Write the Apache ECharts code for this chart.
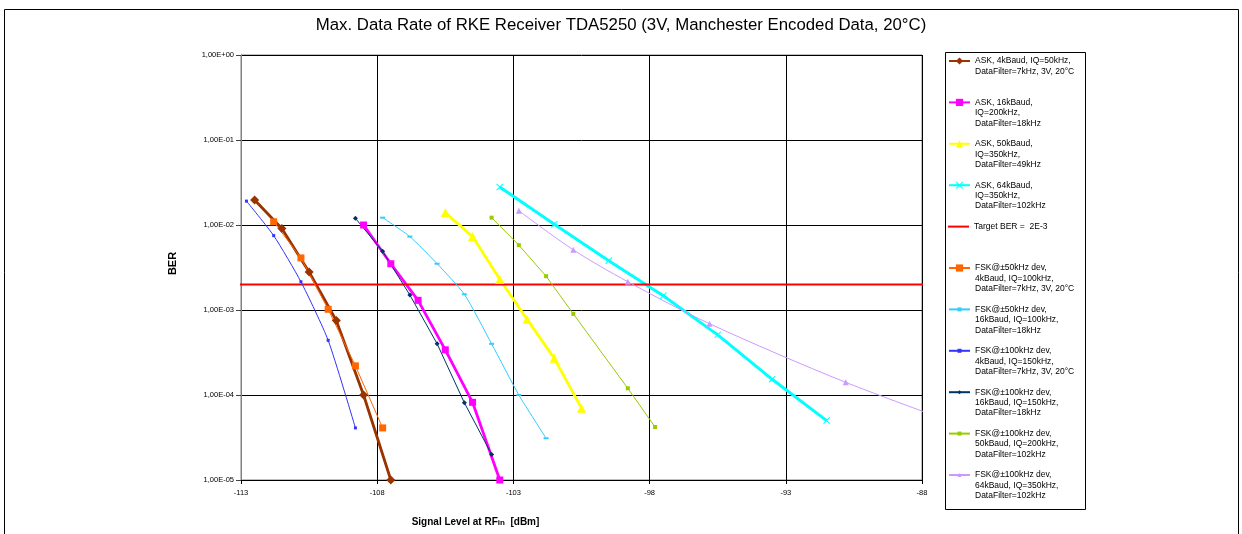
<!DOCTYPE html>
<html>
<head>
<meta charset="utf-8">
<script src="https://cdn.jsdelivr.net/npm/echarts@6/dist/echarts.min.js"></script>
<style>
  html, body { margin: 0; padding: 0; background: #fff; }
  #chart { width: 1242px; height: 534px; }
</style>
</head>
<body>
<div id="chart"></div>
<script>
// ---- data (x = dBm, y = BER) ----
const ask4kX = [-112.5, -111.5, -110.5, -109.5, -108.5, -107.5];
const ask4kBer = [0.0197, 0.0091, 0.0028, 0.00075, 0.0001, 0.00001];

const ask16kX = [-108.5, -107.5, -106.5, -105.5, -104.5, -103.5];
const ask16kBer = [0.01, 0.0035, 0.0013, 0.00034, 0.000082, 0.00001];

const ask50kX = [-105.5, -104.5, -103.5, -102.5, -101.5, -100.5];
const ask50kBer = [0.014, 0.0073, 0.0023, 0.00078, 0.00027, 0.00007];

const ask64kX = [-103.5, -101.5, -99.5, -97.5, -95.5, -93.5, -91.5];
const ask64kBer = [0.028, 0.0102, 0.0038, 0.00147, 0.00051, 0.000153, 0.00005];

const targetX = [-113.2, -87.9];
const targetBer = [0.002, 0.002];

const fsk50k4X = [-111.8, -110.8, -109.8, -108.8, -107.8];
const fsk50k4Ber = [0.0109, 0.0041, 0.00102, 0.00022, 0.000041];

const fsk50k16X = [-107.8, -106.8, -105.8, -104.8, -103.8, -102.8, -101.8];
const fsk50k16Ber = [0.0122, 0.0073, 0.0035, 0.00153, 0.0004, 0.0001, 0.000031];

const fsk100k4X = [-112.8, -111.8, -110.8, -109.8, -108.8];
const fsk100k4Ber = [0.0191, 0.0075, 0.00215, 0.00044, 0.000041];

const fsk100k16X = [-108.8, -107.8, -106.8, -105.8, -104.8, -103.8];
const fsk100k16Ber = [0.012, 0.0049, 0.0015, 0.0004, 0.000081, 0.00002];

const fsk100k50X = [-103.8, -102.8, -101.8, -100.8, -98.8, -97.8];
const fsk100k50Ber = [0.0122, 0.0058, 0.0025, 0.0009, 0.00012, 0.000042];

const fsk100k64X = [-102.8, -100.8, -98.8, -95.8, -90.8, -85.8];
const fsk100k64Ber = [0.0147, 0.0051, 0.00215, 0.00069, 0.000141, 0.000036];

// tick labels
const xTickValues = [-113, -108, -103, -98, -93, -88];
const yTickLabels = ['1,00E-05', '1,00E-04', '1,00E-03', '1,00E-02', '1,00E-01', '1,00E+00'];

const FONT = "'Liberation Sans', Arial, sans-serif";
const X_SHAPE = 'path://M0,1L1,0L5,4L9,0L10,1L6,5L10,9L9,10L5,6L1,10L0,9L4,5Z';

function pairs(xs, ys) {
  return xs.map((x, i) => [x, ys[i]]);
}

function line(name, xs, ys, color, symbol, size, width, extra) {
  return Object.assign({
    name: name,
    type: 'line',
    data: pairs(xs, ys),
    symbol: symbol,
    symbolSize: size,
    showSymbol: symbol !== 'none',
    lineStyle: { color: color, width: width },
    itemStyle: { color: color },
    emphasis: { disabled: true },
    animation: false
  }, extra || {});
}

const seriesList = [
  line('ASK, 4kBaud, IQ=50kHz,\nDataFilter=7kHz, 3V, 20°C', ask4kX, ask4kBer, '#993300', 'diamond', 9, 2.8),
  line('ASK, 16kBaud,\nIQ=200kHz,\nDataFilter=18kHz', ask16kX, ask16kBer, '#FF00FF', 'rect', 7, 2.8),
  line('ASK, 50kBaud,\nIQ=350kHz,\nDataFilter=49kHz', ask50kX, ask50kBer, '#FFFF00', 'triangle', 9, 2.8),
  line('ASK, 64kBaud,\nIQ=350kHz,\nDataFilter=102kHz', ask64kX, ask64kBer, '#00FFFF', X_SHAPE, 7, 3),
  line('Target BER =  2E-3', targetX, targetBer, '#FF0000', 'none', 0, 2, { clip: false }),
  line('FSK@±50kHz dev,\n4kBaud, IQ=100kHz,\nDataFilter=7kHz, 3V, 20°C', fsk50k4X, fsk50k4Ber, '#FF6600', 'rect', 7, 1),
  line('FSK@±50kHz dev,\n16kBaud, IQ=100kHz,\nDataFilter=18kHz', fsk50k16X, fsk50k16Ber, '#33CCFF', 'rect', [5, 2], 1, { smooth: 0.2 }),
  line('FSK@±100kHz dev,\n4kBaud, IQ=150kHz,\nDataFilter=7kHz, 3V, 20°C', fsk100k4X, fsk100k4Ber, '#3333FF', 'rect', 3, 1, { smooth: 0.2 }),
  line('FSK@±100kHz dev,\n16kBaud, IQ=150kHz,\nDataFilter=18kHz', fsk100k16X, fsk100k16Ber, '#003366', 'diamond', 5, 1),
  line('FSK@±100kHz dev,\n50kBaud, IQ=200kHz,\nDataFilter=102kHz', fsk100k50X, fsk100k50Ber, '#99CC00', 'rect', 4, 1),
  line('FSK@±100kHz dev,\n64kBaud, IQ=350kHz,\nDataFilter=102kHz', fsk100k64X, fsk100k64Ber, '#CC99FF', 'triangle', 6, 1, { smooth: 0.3 })
];

// one legend block per entry; blank lines in front keep the icon on the first text line
const LH = 10.4;
const iconHeight = [9, 9, 9, 9, 2, 9, 5, 5, 5, 5, 5];
const legends = seriesList.map((s, i) => {
  const n = s.name.split('\n').length;
  const item = { name: s.name };
  if (s.symbol === 'none') item.icon = 'rect';
  return {
    data: [item],
    orient: 'vertical',
    left: 948,
    top: 61 + i * 41.4 - (2 * n - 1) * LH / 2,
    padding: 0,
    itemGap: 0,
    itemWidth: 21,
    itemHeight: iconHeight[i],
    selectedMode: false,
    formatter: function (name) {
      return ' \n'.repeat(n - 1) + name;
    },
    textStyle: {
      fontFamily: FONT,
      fontSize: 8.5,
      color: '#000',
      lineHeight: LH
    }
  };
});

const myChart = echarts.init(document.getElementById('chart'), null, { renderer: 'canvas' });

const option = {
  backgroundColor: '#fff',
  animation: false,
  title: {
    text: 'Max. Data Rate of RKE Receiver TDA5250 (3V, Manchester Encoded Data, 20°C)',
    left: 'center',
    top: 17,
    padding: [0, 0, 0, 22],
    textStyle: { fontFamily: FONT, fontSize: 16.8, fontWeight: 'normal', color: '#000' }
  },
  legend: legends,
  grid: {
    left: 241,
    right: 320,
    top: 55,
    bottom: 54,
    containLabel: false,
    outerBoundsMode: 'none',
    show: true,
    borderColor: '#808080',
    borderWidth: 1
  },
  graphic: [
    {
      type: 'rect',
      shape: { x: 4.5, y: 9.5, width: 1234, height: 540 },
      style: { fill: null, stroke: '#000', lineWidth: 1 },
      silent: true
    },
    {
      type: 'rect',
      shape: { x: 945.5, y: 52.5, width: 140, height: 457 },
      style: { fill: null, stroke: '#000', lineWidth: 1 },
      silent: true
    }
  ],
  xAxis: {
    type: 'value',
    min: -113,
    max: -88,
    name: 'Signal Level at RF{sub|in}  [dBm]',
    nameLocation: 'middle',
    nameGap: 37,
    nameTextStyle: {
      fontFamily: FONT,
      fontSize: 10,
      fontWeight: 'bold',
      color: '#000',
      padding: [0, 212, 0, 0],
      rich: {
        sub: { fontFamily: FONT, fontSize: 8, fontWeight: 'bold', color: '#000', verticalAlign: 'bottom', lineHeight: 8 }
      }
    },
    axisLine: { show: true, lineStyle: { color: '#000', width: 1 } },
    axisTick: { show: true, length: 4, customValues: xTickValues, lineStyle: { color: '#000' } },
    axisLabel: {
      customValues: xTickValues,
      fontFamily: FONT,
      fontSize: 7.5,
      color: '#000',
      margin: 9
    },
    splitLine: { show: true, lineStyle: { color: '#000', width: 1 } }
  },
  yAxis: {
    type: 'log',
    logBase: 10,
    min: 0.00001,
    max: 1,
    name: 'BER',
    nameLocation: 'middle',
    nameGap: 63,
    nameTextStyle: { fontFamily: FONT, fontSize: 11, fontWeight: 'bold', color: '#000', padding: [0, 0, 0, 8] },
    axisLine: { show: true, lineStyle: { color: '#808080', width: 1 } },
    axisTick: { show: true, length: 5, lineStyle: { color: '#404040' } },
    axisLabel: {
      fontFamily: FONT,
      fontSize: 7.5,
      color: '#000',
      margin: 7,
      formatter: function (v) {
        return yTickLabels[Math.round(Math.log10(v)) + 5];
      }
    },
    splitLine: { show: true, lineStyle: { color: '#000', width: 1 } },
    minorTick: { show: false },
    minorSplitLine: { show: false }
  },
  series: seriesList
};

myChart.setOption(option);
window.addEventListener('resize', myChart.resize);
</script>
</body>
</html>
